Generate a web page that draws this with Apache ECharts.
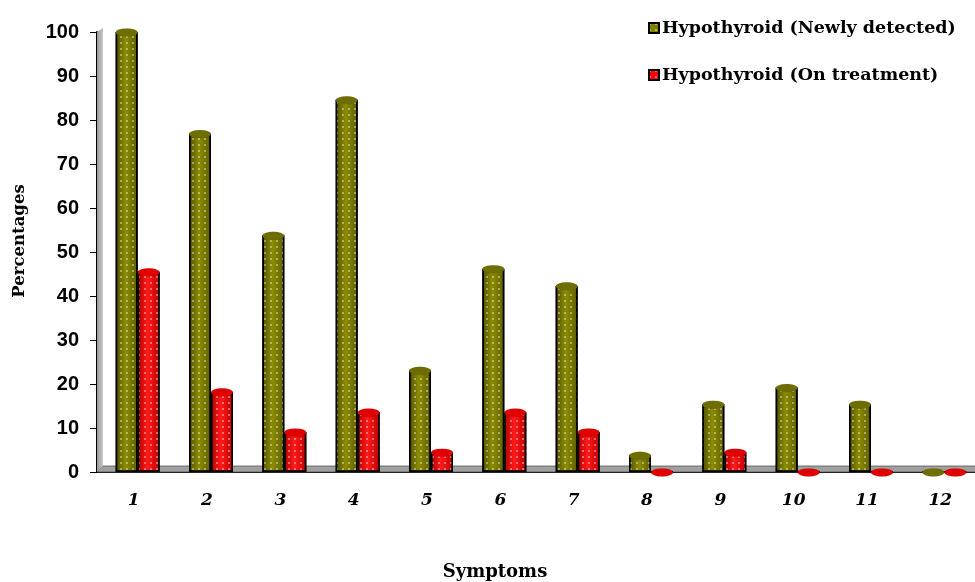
<!DOCTYPE html>
<html><head><meta charset="utf-8">
<script src="https://cdn.jsdelivr.net/npm/echarts@6/dist/echarts.min.js"></script>
<style>html,body{margin:0;padding:0;background:#fff;overflow:hidden}#c{width:975px;height:582px}</style>
</head><body><div id="c"></div>
<script>
var categories = ['1','2','3','4','5','6','7','8','9','10','11','12'];
var newlyDetected = [100, 76.9, 53.8, 84.6, 23.1, 46.2, 42.3, 3.8, 15.4, 19.2, 15.4, 0];
var onTreatment = [45.5, 18.2, 9.1, 13.6, 4.5, 13.6, 9.1, 0, 4.5, 0, 0, 0];
var yTicks = [0, 10, 20, 30, 40, 50, 60, 70, 80, 90, 100];
var seriesNames = ['Hypothyroid (Newly detected)', 'Hypothyroid (On treatment)'];

var chart = echarts.init(document.getElementById('c'), null, {renderer: 'canvas'});
var serif = 'DejaVu Serif';
function grad(a, b, c) {
  return new echarts.graphic.LinearGradient(0, 0, 1, 0, [
    {offset: 0, color: a}, {offset: 0.45, color: b}, {offset: 1, color: c}]);
}
var decal = {symbol: 'rect', symbolSize: 1, color: 'rgba(255,255,255,0.4)',
  dashArrayX: [1.5, 3.5], dashArrayY: [1.5, 3.5], rotation: 0};
var BW = 22;
var option = {
  animation: false,
  backgroundColor: '#fff',
  grid: [
    {left: 97, top: 32, width: 880, height: 440, containLabel: false, outerBoundsMode: 'none'},
    {left: 101, top: 32, width: 880, height: 440, containLabel: false, outerBoundsMode: 'none'}
  ],
  legend: {
    orient: 'vertical', left: 643, top: 14, itemGap: 29,
    icon: 'rect', itemWidth: 10, itemHeight: 10,
    textStyle: {fontFamily: serif, fontWeight: 'bold', fontSize: 17.5, color: '#000', padding: [0, 0, 0, -2]},
    data: [
      {name: seriesNames[0], itemStyle: {color: '#808000', borderColor: '#000', borderWidth: 2}},
      {name: seriesNames[1], itemStyle: {color: '#ff0000', borderColor: '#000', borderWidth: 2}}
    ]
  },
  xAxis: [{
    type: 'category', data: categories, gridIndex: 0,
    name: 'Symptoms', nameLocation: 'middle', nameGap: 91,
    nameTextStyle: {fontFamily: serif, fontWeight: 'bold', fontSize: 18, color: '#000', padding: [0, 84, 0, 0]},
    axisLine: {lineStyle: {color: '#000', width: 2}},
    axisTick: {length: 6, lineStyle: {color: '#000', width: 1}},
    axisLabel: {margin: 20, fontFamily: serif, fontWeight: 'bold', fontStyle: 'italic', fontSize: 17, color: '#000'}
  }, {
    type: 'category', data: categories, gridIndex: 1, show: false
  }],
  yAxis: [{
    type: 'value', min: 0, max: 100, interval: 10, gridIndex: 0,
    name: 'Percentages', nameLocation: 'middle', nameGap: 69,
    nameTextStyle: {fontFamily: serif, fontWeight: 'bold', fontSize: 16.5, color: '#000', padding: [0, 0, 0, 22]},
    axisLine: {show: true, lineStyle: {color: '#000', width: 2}},
    axisTick: {show: true, length: 7, lineStyle: {color: '#000'}},
    splitLine: {show: false},
    axisLabel: {margin: 18, fontFamily: 'Liberation Sans', fontWeight: 'bold', fontSize: 20, color: '#000',
      formatter: function (v) { return yTicks.indexOf(v) >= 0 ? String(v) : ''; }}
  }, {
    type: 'value', min: 0, max: 100, interval: 10, gridIndex: 1, show: false, splitLine: {show: false}
  }],
  series: [
    {name: seriesNames[0], type: 'bar', data: newlyDetected, xAxisIndex: 1, yAxisIndex: 1, barWidth: BW, barGap: '0%', z: 3,
     itemStyle: {color: grad('#4f4f00', '#8c8c00', '#5e5e00'), borderColor: '#000', borderWidth: 1.5, decal: decal}},
    {name: seriesNames[1], type: 'bar', data: onTreatment, xAxisIndex: 1, yAxisIndex: 1, barWidth: BW, barGap: '0%', z: 3,
     itemStyle: {color: grad('#b00000', '#ff1a1a', '#c00000'), borderColor: '#000', borderWidth: 1.5, decal: decal}},
    {name: seriesNames[0], type: 'pictorialBar', data: newlyDetected, xAxisIndex: 1, yAxisIndex: 1, barWidth: BW, barGap: '0%', z: 5,
     symbol: 'circle', symbolSize: [BW, 8], symbolPosition: 'end', symbolOffset: [0, '-50%'],
     itemStyle: {color: '#6e6e00', borderColor: '#000', borderWidth: 1.5}},
    {name: seriesNames[1], type: 'pictorialBar', data: onTreatment, xAxisIndex: 1, yAxisIndex: 1, barWidth: BW, barGap: '0%', z: 5,
     symbol: 'circle', symbolSize: [BW, 8], symbolPosition: 'end', symbolOffset: [0, '-50%'],
     itemStyle: {color: '#e00000', borderColor: '#000', borderWidth: 1.5}}
  ]
};
chart.setOption(option);

// 3D-style wall and floor derived from axis scale
var p0 = chart.convertToPixel({gridIndex: 0}, [0, 0]);
var pTop = chart.convertToPixel({yAxisIndex: 0}, 100);
var gx = 97, gRight = 97 + 880, gy = p0[1];
chart.setOption({
  graphic: [
    {type: 'polygon', z: 1, shape: {points: [[gx, gy], [gx + 6, gy - 6], [gRight, gy - 6], [gRight, gy]]},
     style: {fill: '#a0a0a0', stroke: '#555', lineWidth: 0.8}},
    {type: 'polygon', z: 1, shape: {points: [[gx, gy], [gx, pTop], [gx + 6, pTop - 4], [gx + 6, gy - 6]]},
     style: {fill: new echarts.graphic.LinearGradient(0, 0, 1, 0, [{offset: 0, color: '#9a9a9a'}, {offset: 1, color: '#c8c8c8'}]), stroke: null}}
  ]
});
</script></body></html>
